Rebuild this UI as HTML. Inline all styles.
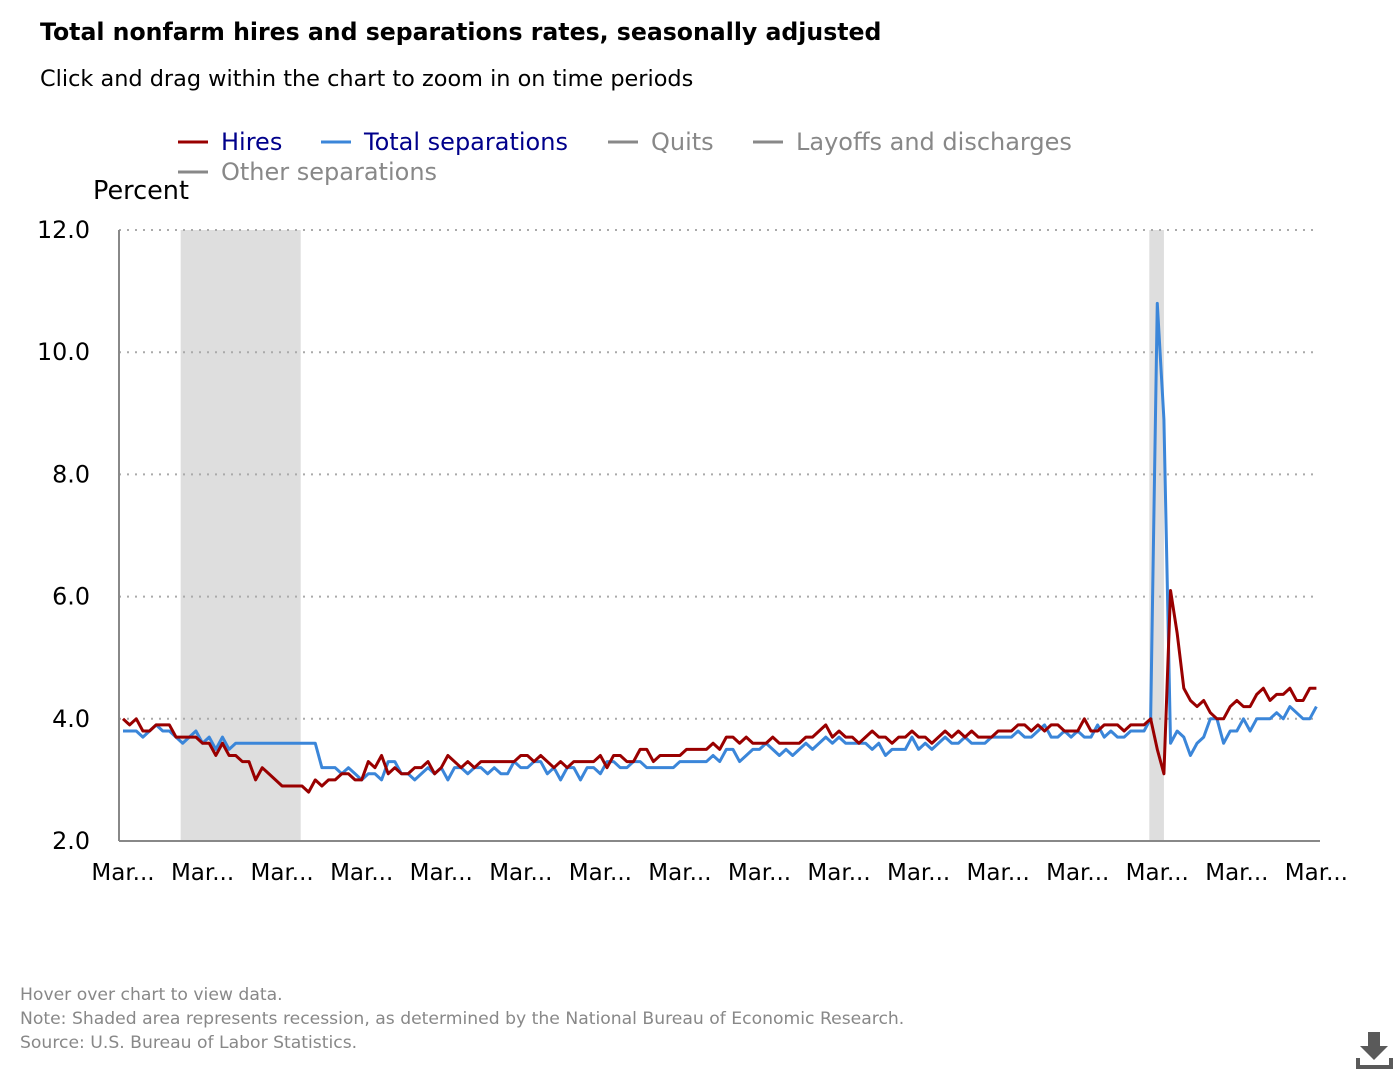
<!DOCTYPE html>
<html><head><meta charset="utf-8">
<style>
body{margin:0;width:1400px;height:1080px;background:#fff;font-family:"DejaVu Sans","Liberation Sans",sans-serif;overflow:hidden;position:relative}
.t{position:absolute;white-space:nowrap}
</style></head>
<body>
<div class="t" style="left:40px;top:18px;font-size:23.6px;font-weight:bold;color:#000">Total nonfarm hires and separations rates, seasonally adjusted</div>
<div class="t" style="left:40px;top:66px;font-size:22.4px;color:#000">Click and drag within the chart to zoom in on time periods</div>
<svg id="chart" width="1400" height="1080" style="position:absolute;left:0;top:0;font-family:'DejaVu Sans','Liberation Sans',sans-serif"></svg>
<div class="t" style="left:20px;top:983px;font-size:17.2px;color:#888;line-height:24px">Hover over chart to view data.<br>Note: Shaded area represents recession, as determined by the National Bureau of Economic Research.<br>Source: U.S. Bureau of Labor Statistics.</div>
<svg width="40" height="40" style="position:absolute;left:1354px;top:1030px"><path d="M14 2h12v14h8L20 30 6 16h8z" fill="#5a5a5a"/><path d="M4 28v9h33v-9" fill="none" stroke="#5a5a5a" stroke-width="4"/></svg>
<script>
const hires=[4.0,3.9,4.0,3.8,3.8,3.9,3.9,3.9,3.7,3.7,
3.7,3.7,3.6,3.6,3.4,3.6,3.4,3.4,3.3,3.3,3.0,3.2,
3.1,3.0,2.9,2.9,2.9,2.9,2.8,3.0,2.9,3.0,3.0,3.1,
3.1,3.0,3.0,3.3,3.2,3.4,3.1,3.2,3.1,3.1,3.2,3.2,
3.3,3.1,3.2,3.4,3.3,3.2,3.3,3.2,3.3,3.3,3.3,3.3,
3.3,3.3,3.4,3.4,3.3,3.4,3.3,3.2,3.3,3.2,3.3,3.3,
3.3,3.3,3.4,3.2,3.4,3.4,3.3,3.3,3.5,3.5,3.3,3.4,
3.4,3.4,3.4,3.5,3.5,3.5,3.5,3.6,3.5,3.7,3.7,3.6,
3.7,3.6,3.6,3.6,3.7,3.6,3.6,3.6,3.6,3.7,3.7,3.8,
3.9,3.7,3.8,3.7,3.7,3.6,3.7,3.8,3.7,3.7,3.6,3.7,
3.7,3.8,3.7,3.7,3.6,3.7,3.8,3.7,3.8,3.7,3.8,3.7,
3.7,3.7,3.8,3.8,3.8,3.9,3.9,3.8,3.9,3.8,3.9,3.9,
3.8,3.8,3.8,4.0,3.8,3.8,3.9,3.9,3.9,3.8,3.9,3.9,
3.9,4.0,3.5,3.1,6.1,5.4,4.5,4.3,4.2,4.3,4.1,4.0,
4.0,4.2,4.3,4.2,4.2,4.4,4.5,4.3,4.4,4.4,4.5,4.3,
4.3,4.5,4.5];
const separations=[3.8,3.8,3.8,3.7,3.8,3.9,3.8,3.8,3.7,3.6,
3.7,3.8,3.6,3.7,3.5,3.7,3.5,3.6,3.6,3.6,3.6,3.6,
3.6,3.6,3.6,3.6,3.6,3.6,3.6,3.6,3.2,3.2,3.2,3.1,
3.2,3.1,3.0,3.1,3.1,3.0,3.3,3.3,3.1,3.1,3.0,3.1,
3.2,3.1,3.2,3.0,3.2,3.2,3.1,3.2,3.2,3.1,3.2,3.1,
3.1,3.3,3.2,3.2,3.3,3.3,3.1,3.2,3.0,3.2,3.2,3.0,
3.2,3.2,3.1,3.3,3.3,3.2,3.2,3.3,3.3,3.2,3.2,3.2,
3.2,3.2,3.3,3.3,3.3,3.3,3.3,3.4,3.3,3.5,3.5,3.3,
3.4,3.5,3.5,3.6,3.5,3.4,3.5,3.4,3.5,3.6,3.5,3.6,
3.7,3.6,3.7,3.6,3.6,3.6,3.6,3.5,3.6,3.4,3.5,3.5,
3.5,3.7,3.5,3.6,3.5,3.6,3.7,3.6,3.6,3.7,3.6,3.6,
3.6,3.7,3.7,3.7,3.7,3.8,3.7,3.7,3.8,3.9,3.7,3.7,
3.8,3.7,3.8,3.7,3.7,3.9,3.7,3.8,3.7,3.7,3.8,3.8,
3.8,4.0,10.8,8.9,3.6,3.8,3.7,3.4,3.6,3.7,4.0,4.0,
3.6,3.8,3.8,4.0,3.8,4.0,4.0,4.0,4.1,4.0,4.2,4.1,
4.0,4.0,4.2];
const yTicks=[2,4,6,8,10,12];
const xTickLabels=["Mar...","Mar...","Mar...","Mar...","Mar...","Mar...","Mar...","Mar...","Mar...","Mar...","Mar...","Mar...","Mar...","Mar...","Mar...","Mar..."];
const recessions=[[8.7,26.8],[154.8,157]];

const NS="http://www.w3.org/2000/svg";
const svg=document.getElementById('chart');
const X0=123,DX=6.63,Y0=841,PY=61.1;
function xs(i){return X0+i*DX;}
function ys(v){return Y0-(v-2)*PY;}
function mk(tag,attrs,parent){const e=document.createElementNS(NS,tag);for(const k in attrs)e.setAttribute(k,attrs[k]);(parent||svg).appendChild(e);return e;}

recessions.forEach(r=>{
  const e=mk('rect',{x:xs(r[0]),y:ys(12),width:xs(r[1])-xs(r[0]),height:ys(2)-ys(12),fill:'#dedede'});
  
  
});
yTicks.forEach(v=>{
  if(v>2){const g=mk('line',{x1:119,x2:1318,y1:ys(v),y2:ys(v),stroke:'#aaa','stroke-width':2,'stroke-dasharray':'2,6'});
  
  }
  const t=mk('text',{x:90,y:ys(v)+8,'text-anchor':'end','font-size':23.8,fill:'#000'});
  t.textContent=v.toFixed(1);
  
  
});
const xa=mk('line',{x1:119,x2:1320,y1:Y0,y2:Y0,stroke:'#888','stroke-width':2});


const ya=mk('line',{x1:119,x2:119,y1:ys(12),y2:Y0,stroke:'#888','stroke-width':2});


xTickLabels.forEach((l,k)=>{
  const t=mk('text',{x:xs(k*12),y:880,'text-anchor':'middle','font-size':23,fill:'#000'});
  t.textContent=l;
  
  
});
const yt=mk('text',{x:93,y:199,'font-size':25.5,fill:'#000'});
yt.textContent='Percent';



function line(arr,color,name){
  const p=mk('polyline',{points:arr.map((v,i)=>xs(i)+','+ys(v)).join(' '),fill:'none',stroke:color,'stroke-width':3,'stroke-linejoin':'round'});
  
  
}
line(separations,'#3b86d9','separations-line');
line(hires,'#990000','hires-line');

const legend=[["Hires",'#990000','#00008b',178,142],["Total separations",'#3b86d9','#00008b',321,142],["Quits",'#888','#888',608,142],["Layoffs and discharges",'#888','#888',753,142],["Other separations",'#888','#888',178,172]];
legend.forEach(l=>{
  const g=mk('g',{});
  
  
  mk('line',{x1:l[3],x2:l[3]+30,y1:l[4],y2:l[4],stroke:l[1],'stroke-width':3},g);
  const t=mk('text',{x:l[3]+43,y:l[4]+8,'font-size':24,fill:l[2]},g);
  t.textContent=l[0];
});
</script>
</body></html>
